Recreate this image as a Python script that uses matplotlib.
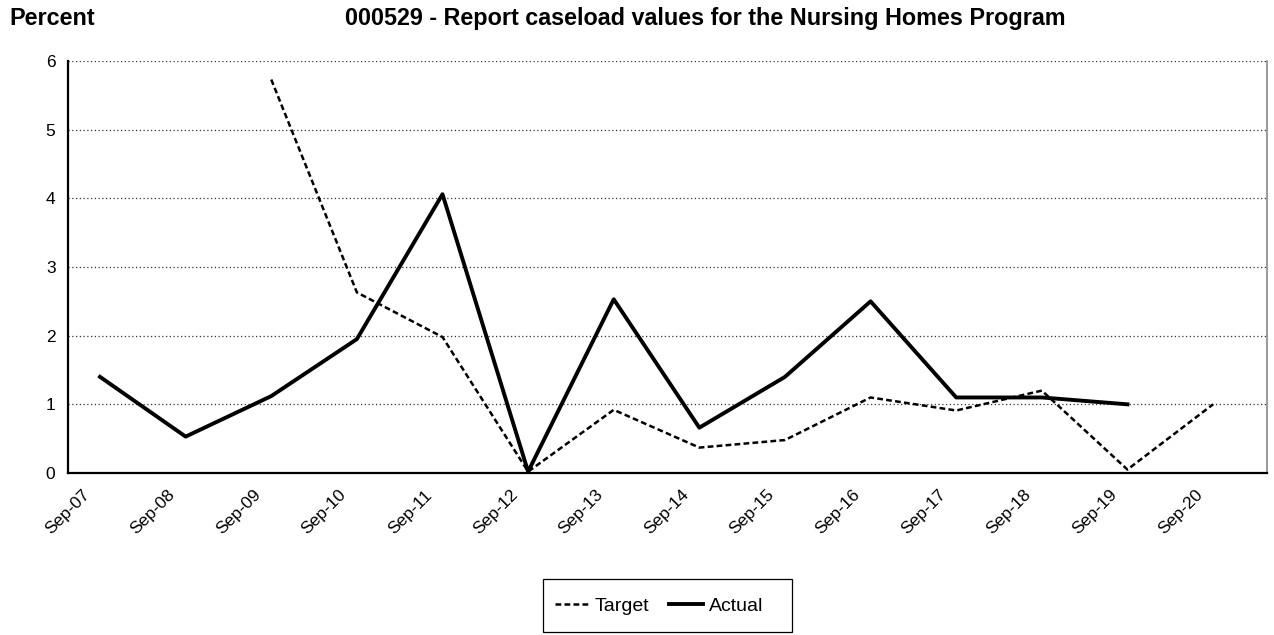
import matplotlib
matplotlib.use('Agg')
import matplotlib.pyplot as plt
import matplotlib.transforms as mtransforms
from matplotlib.patches import Rectangle
import numpy as np

plt.rcParams['font.family'] = ['Liberation Sans', 'DejaVu Sans']

# categories and series (None = no value)
months = ['Sep-07', 'Sep-08', 'Sep-09', 'Sep-10', 'Sep-11', 'Sep-12', 'Sep-13',
          'Sep-14', 'Sep-15', 'Sep-16', 'Sep-17', 'Sep-18', 'Sep-19', 'Sep-20']
target = [None, None, 5.73, 2.63, 1.98, 0.02, 0.92, 0.37, 0.48, 1.10, 0.91, 1.20, 0.05, 1.00]
actual = [1.40, 0.53, 1.12, 1.95, 4.06, 0.02, 2.53, 0.66, 1.40, 2.50, 1.10, 1.10, 1.00, None]
yticks = [0, 1, 2, 3, 4, 5, 6]


def to_arr(vals):
    return np.array([np.nan if v is None else v for v in vals], dtype=float)


W, H = 1274, 635
fig = plt.figure(figsize=(W / 100, H / 100), dpi=100)
ax = fig.add_axes([68 / W, 1 - 473 / H, (1267 - 68) / W, (473 - 61) / H])

x = np.arange(len(months))
ax.plot(x, to_arr(target), color='black', linewidth=1.8, linestyle=(0, (2.3, 1.3)),
        label='Target', zorder=3)
ax.plot(x, to_arr(actual), color='black', linewidth=2.8, label='Actual', zorder=4)

ax.set_ylim(0, 6)
ax.set_xlim(-0.374, 13.63)
ax.set_yticks(yticks)
ax.set_xticks(x)
ax.set_xticklabels(months, rotation=45, ha='right', va='center', rotation_mode='anchor')
ax.tick_params(axis='both', length=0, labelsize=12.5, colors='black')
ax.tick_params(axis='y', pad=9)
ax.tick_params(axis='x', pad=14)
shift = mtransforms.ScaledTranslation(-0.13, 0, fig.dpi_scale_trans)
for lab in ax.get_xticklabels():
    lab.set_transform(lab.get_transform() + shift)

ax.yaxis.grid(True, linestyle=(0, (1, 2)), color='#333333', linewidth=0.9)
ax.set_axisbelow(True)

ax.spines['top'].set_visible(False)
ax.spines['right'].set_color('#888888')
ax.spines['right'].set_linewidth(1.2)
ax.spines['left'].set_linewidth(1.6)
ax.spines['bottom'].set_linewidth(1.6)

fig.text(9 / W, 1 - 25 / H, 'Percent', fontsize=16.8, fontweight='bold',
         va='baseline', ha='left')
fig.text(705 / W, 1 - 25 / H,
         '000529 - Report caseload values for the Nursing Homes Program',
         fontsize=16.8, fontweight='bold', va='baseline', ha='center')

# legend frame drawn as its own box, entries placed inside it
fig.patches.append(Rectangle((543 / W, 1 - 632 / H), (792 - 543) / W, (632 - 579) / H,
                             transform=fig.transFigure, fill=False,
                             edgecolor='black', linewidth=0.9))
leg = fig.legend(loc='center left', bbox_to_anchor=(555 / W, 1 - 606 / H), ncol=2,
                 frameon=False, fontsize=14,
                 handlelength=1.75, handletextpad=0.3, columnspacing=1.0,
                 borderpad=0, borderaxespad=0)

fig.savefig('out.png', dpi=100)
